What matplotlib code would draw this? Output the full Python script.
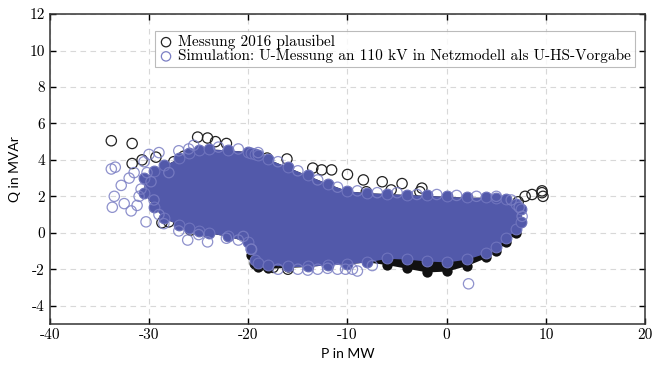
import matplotlib
matplotlib.use('Agg')
import matplotlib.pyplot as plt
import numpy as np

plt.rcParams['axes.unicode_minus'] = False

# dense simulation cloud, envelope
p_env = [-30.5, -29.5, -28.5, -27, -26, -25, -24, -22, -20, -19.7, -19.3, -19, -18, -16, -14, -12,
         -10, -8, -6, -4, -2, 0, 2, 4, 5, 6, 7, 7.5]
q_top = [3.0, 3.4, 3.7, 4.1, 4.4, 4.55, 4.6, 4.55, 4.45, 4.4, 4.35, 4.25, 4.05, 3.6, 3.15, 2.7,
         2.3, 2.2, 2.15, 2.1, 2.05, 2.0, 1.95, 1.95, 1.9, 1.85, 1.6, 1.3]
q_bot = [2.2, 1.4, 0.8, 0.45, 0.25, 0.1, 0.0, -0.2, -0.5, -0.9, -1.5, -1.65, -1.75, -1.85, -1.85, -1.75,
         -1.7, -1.6, -1.4, -1.45, -1.55, -1.6, -1.45, -1.1, -0.8, -0.3, 0.2, 0.6]
# lower edge of the dense measurement band peeking out below the cloud
q_blk = [2.2, 1.4, 0.8, 0.45, 0.25, 0.1, 0.0, -0.2, -0.5, -1.2, -1.7, -1.9, -1.95, -1.9, -1.85, -1.75,
         -1.7, -1.6, -1.75, -1.95, -2.15, -2.1, -1.8, -1.35, -1.0, -0.5, 0.0, 0.6]

# single measurement points outside the cloud
mess_p = [-33.8, -31.7, -31.7, -30.7, -29.3, -25.1, -24.1, -23.3, -22.2, -18.1, -16.1, -13.5,
          -12.6, -11.6, -10.0, -8.4, -6.5, -4.5, -2.5, -8.1, -5.6, -2.7, 7.2, 7.9, 8.6, 9.6,
          9.7, 9.6, -28.7, -28.0, -25.8, -24.1, -16.0, -18.5, -17.5, -19.3, -27.5, -26.5]
mess_q = [5.05, 4.9, 3.8, 4.0, 4.15, 5.25, 5.2, 5.0, 4.9, 4.1, 4.05, 3.55,
          3.45, 3.45, 3.2, 2.9, 2.8, 2.7, 2.45, 2.25, 2.35, 2.25, 1.7, 2.0, 2.1, 2.2,
          2.0, 2.3, 0.55, 0.6, 0.15, 0.05, -2.0, -1.75, -1.9, -1.7, 3.9, 4.2]

# single simulation points at the rim of the cloud
sim_p = [-33.8, -33.4, -33.5, -33.7, -32.5, -31.8, -31.2, -30.3, -30.8, -32.0, -31.5, -30.5,
         -29.8, -29.5, -29.0, -28.0, -30.0, -29.0, -26.1, -24.1, -22.2, -21.0, -19.7, -20.5,
         -25.0, -27.0, -28.5, -26.0, -27.0, -25.5, -23.0, -21.0, -19.0, -17.0, -15.0, -13.0,
         -11.0, -9.0, -7.0, -5.0, -3.0, -1.0, 1.0, 3.0, 5.0, 6.5, 7.3, 7.6, -15.0, -13.0,
         -11.0, -10.2, -9.5, -9.0, -12.0, -14.0, -17.0, -7.5, 2.2, -32.8, -31.0, -30.2]
sim_q = [3.5, 3.6, 2.0, 1.4, 1.6, 1.2, 1.5, 0.6, 2.4, 3.0, 3.3, 3.9,
         2.8, 1.8, 1.0, 3.3, 4.3, 4.4, -0.4, -0.5, -0.3, -0.4, -0.9, -0.2,
         -0.1, 0.1, 0.5, 4.6, 4.5, 4.8, 4.7, 4.6, 4.4, 3.9, 3.4, 2.9,
         2.5, 2.3, 2.2, 2.2, 2.1, 2.1, 2.05, 2.0, 2.0, 1.8, 1.4, 0.9, -2.0, -2.0,
         -2.0, -2.0, -2.0, -2.1, -1.95, -2.05, -2.0, -1.8, -2.8, 2.6, 2.0, 3.3]

blue = '#5259AA'

fig = plt.figure(figsize=(6.55, 3.71), dpi=100)
ax = fig.add_axes([0.076, 0.127, 0.909, 0.835])

ax.fill_between(p_env, q_blk, q_top, color='#111111', lw=0, zorder=2)
ax.scatter(p_env, q_blk, s=55, color='#111111', lw=0, zorder=2)
ax.scatter(mess_p, mess_q, s=55, facecolors='none', edgecolors='#222222', linewidths=0.9,
           zorder=3, label='Messung 2016 plausibel')
ax.fill_between(p_env, q_bot, q_top, color=blue, lw=0, zorder=4)
# rim of the cloud drawn as overlapping markers
ax.scatter(p_env + p_env, q_top + q_bot, s=60, color=blue, edgecolors='#6f74bd', lw=0.8, zorder=4)
ax.scatter(sim_p, sim_q, s=55, facecolors='none', edgecolors='#7b7fc4', linewidths=0.9,
           alpha=0.85, zorder=5,
           label='Simulation: U-Messung an 110 kV in Netzmodell als U-HS-Vorgabe')

ax.set_xlim(-40, 20)
ax.set_ylim(-5, 12)
ax.set_xticks(np.arange(-40, 21, 10))
ax.set_yticks(np.arange(-4, 13, 2))
ax.grid(True, ls=(0, (5, 4)), color='#d8d8d8', lw=0.8)
ax.set_axisbelow(True)
ax.tick_params(direction='in', top=True, right=True, length=4, width=1, labelsize=11)
for lab in ax.get_xticklabels() + ax.get_yticklabels():
    lab.set_fontfamily('cmr10')
for s in ax.spines.values():
    s.set_linewidth(1.1)
    s.set_color('#333333')

ax.set_xlabel('P in MW', fontfamily='Lato', fontsize=10, labelpad=4)
ax.set_ylabel('Q in MVAr', fontfamily='Lato', fontsize=10, labelpad=6)

leg = ax.legend(loc='upper left', bbox_to_anchor=(0.176, 0.945), prop={'family': 'cmr10', 'size': 11},
                fancybox=False, edgecolor='#aaaaaa', handletextpad=0.3, borderpad=0.25,
                labelspacing=0.0, handlelength=1.0, borderaxespad=0)
leg.get_frame().set_linewidth(0.8)
for h in leg.legend_handles:
    h.set_sizes([45])
    h.set_alpha(1)

fig.savefig('out.png', dpi=100)
